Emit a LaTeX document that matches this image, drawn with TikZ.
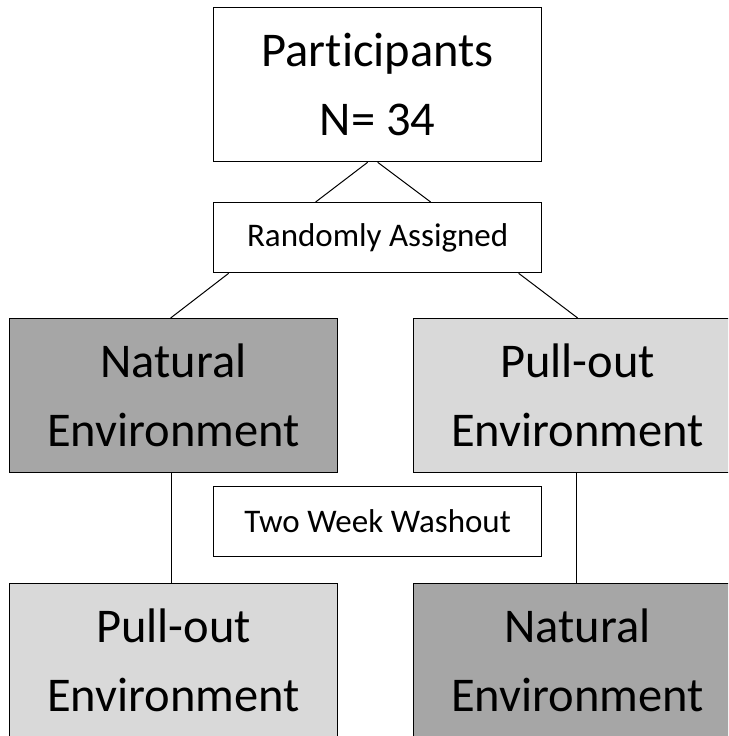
\documentclass[tikz,border=0pt]{standalone}
\usepackage{fontspec}
\setmainfont{Carlito}[Ligatures={NoCommon}]
\definecolor{darkfill}{HTML}{A6A6A6}
\definecolor{lightfill}{HTML}{D9D9D9}
\begin{document}
\begin{tikzpicture}[x=1pt,y=-1pt,
  box/.style={draw=black, line width=1.3pt, inner sep=0pt, anchor=north west, align=center, minimum width=328pt},
  bigbox/.style={box, minimum height=154pt, font=\fontsize{48.5}{69}\selectfont},
  smallbox/.style={box, minimum height=70pt, font=\fontsize{33}{40}\selectfont},
  darkbox/.style={fill=darkfill},
  lightbox/.style={fill=lightfill},
  conn/.style={draw=black, line width=1pt}]
\useasboundingbox (0,0) rectangle (728,736);
\clip (0,0) rectangle (728,736);
\node[bigbox, fill=white] (part) at (213,7) {Participants\\N= 34};
\node[smallbox, fill=white] (rand) at (213,202) {Randomly Assigned};
\node[bigbox, darkbox] (nat1) at (9,318) {Natural\\Environment};
\node[bigbox, lightbox] (pull1) at (413,318) {Pull-out\\Environment};
\node[smallbox, fill=white] (wash) at (213,486) {Two Week Washout};
\node[bigbox, lightbox] (pull2) at (9,583) {Pull-out\\Environment};
\node[bigbox, darkbox] (nat2) at (413,583) {Natural\\Environment};
\draw[conn] ([xshift=-10pt]part.south) -- ([xshift=-62pt]rand.north);
\draw[conn] (part.south) -- ([xshift=53pt]rand.north);
\draw[conn] ([xshift=-149pt]rand.south) -- ([xshift=-3pt]nat1.north);
\draw[conn] ([xshift=141pt]rand.south) -- (pull1.north);
\draw[conn] ([xshift=-2pt]nat1.south) -- ([xshift=-2pt]pull2.north);
\draw[conn] ([xshift=-1pt]pull1.south) -- ([xshift=-1pt]nat2.north);
\end{tikzpicture}
\end{document}
